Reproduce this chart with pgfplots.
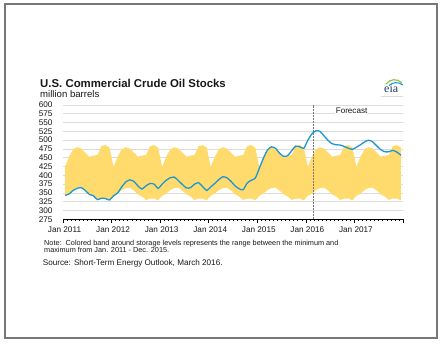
\documentclass[border=0pt]{standalone}
\usepackage{fontspec}
\setmainfont{Liberation Sans}
\newfontfamily\eiafont{Liberation Serif}
\usepackage{pgfplots}
\pgfplotsset{compat=1.18}
\definecolor{band}{RGB}{255,219,110}
\definecolor{lineblue}{RGB}{30,150,210}
\definecolor{gridcol}{RGB}{220,220,220}
\definecolor{framegray}{RGB}{120,120,120}
\definecolor{txt}{RGB}{25,25,25}
\definecolor{eianavy}{RGB}{30,60,100}
\definecolor{eiagreen}{RGB}{140,198,63}
\definecolor{eiablue}{RGB}{0,150,214}
\begin{document}
\begin{tikzpicture}
\useasboundingbox (0pt,0pt) rectangle (443pt,346pt);
\fill[white] (0pt,0pt) rectangle (443pt,346pt);
\draw[framegray, line width=1.5pt] (5pt,8pt) rectangle (437pt,342pt);
% title block
\node[anchor=base west, inner sep=0, text=txt, font=\fontsize{11.4}{13}\selectfont\bfseries] at (40pt,258.5pt) {U.S. Commercial Crude Oil Stocks};
\node[anchor=base west, inner sep=0, text=txt, font=\fontsize{9.6}{11}\selectfont] at (40pt,248.5pt) {million barrels};
% logo
\node[anchor=base west, inner sep=0, text=eianavy, font=\fontsize{12}{13}\selectfont\eiafont] at (384pt,254pt) {eia};
\draw[eiagreen, line width=1.2pt] (386pt,262pt) .. controls (390pt,267pt) and (397pt,268pt) .. (402pt,263pt);
\draw[eiablue, line width=1.0pt] (389pt,260.5pt) .. controls (393pt,264pt) and (398pt,264.5pt) .. (403pt,261pt);
\draw[gridcol, line width=0.6pt] (381pt,250pt) -- (403pt,250pt);
% notes
\node[anchor=base west, inner sep=0, text=txt, font=\fontsize{7.3}{8}\selectfont] at (44pt,100.5pt) {Note:\ \ Colored band around storage levels represents the range between the minimum and};
\node[anchor=base west, inner sep=0, text=txt, font=\fontsize{7.3}{8}\selectfont] at (44pt,93.5pt) {maximum from Jan. 2011 - Dec. 2015.};
\node[anchor=base west, inner sep=0, text=txt, font=\fontsize{8.15}{9}\selectfont] at (42.7pt,80.5pt) {Source: Short-Term Energy Outlook, March 2016.};
\begin{axis}[
  at={(63pt,126.7pt)}, anchor=south west,
  scale only axis, width=340pt, height=114.3pt,
  xmin=0, xmax=84, ymin=275, ymax=600,
  axis x line=bottom, axis y line=left,
  x axis line style={-, black, line width=0.7pt},
  y axis line style={draw=none},
  xtick={0,12,...,84},
  xticklabels={Jan 2011,Jan 2012,Jan 2013,Jan 2014,Jan 2015,Jan 2016,Jan 2017,{}},
  minor xtick={1,...,83},
  ytick={275,300,...,600},
  tick align=outside,
  major tick length=4pt, minor tick length=1.8pt,
  xtick style={black, line width=0.6pt},
  minor tick style={black, line width=0.5pt},
  ytick style={draw=none},
  ymajorgrids, grid style={gridcol, line width=0.8pt},
  /pgf/number format/assume math mode=true,
  ticklabel style={font=\fontsize{8.2}{9}\selectfont, text=txt},
  yticklabel style={xshift=-3pt},
  xticklabel style={xshift=1.5pt},
]
\addplot[fill=band, draw=none] coordinates {
(0.5,424)(1.5,453)(2.5,474)(3.5,480)(4.5,476)(5.5,465)(6.5,453)(7.5,456)(8.5,458)(9.5,483)(10.5,486)(11.5,479)
(12.5,424)(13.5,453)(14.5,474)(15.5,480)(16.5,476)(17.5,465)(18.5,453)(19.5,456)(20.5,458)(21.5,483)(22.5,486)(23.5,479)
(24.5,424)(25.5,453)(26.5,474)(27.5,480)(28.5,476)(29.5,465)(30.5,453)(31.5,456)(32.5,458)(33.5,483)(34.5,486)(35.5,479)
(36.5,424)(37.5,453)(38.5,474)(39.5,480)(40.5,476)(41.5,465)(42.5,453)(43.5,456)(44.5,458)(45.5,483)(46.5,486)(47.5,479)
(48.5,424)(49.5,453)(50.5,474)(51.5,480)(52.5,476)(53.5,465)(54.5,453)(55.5,456)(56.5,458)(57.5,483)(58.5,486)(59.5,479)
(60.5,424)(61.5,453)(62.5,474)(63.5,480)(64.5,476)(65.5,465)(66.5,453)(67.5,456)(68.5,458)(69.5,483)(70.5,486)(71.5,479)
(72.5,424)(73.5,453)(74.5,474)(75.5,480)(76.5,476)(77.5,465)(78.5,453)(79.5,456)(80.5,458)(81.5,483)(82.5,486)(83.5,479)
(83.5,329)(82.5,334)(81.5,334)(80.5,330)(79.5,340)(78.5,346)(77.5,357)(76.5,365)(75.5,364)(74.5,358)(73.5,348)(72.5,342)
(71.5,329)(70.5,334)(69.5,334)(68.5,330)(67.5,340)(66.5,346)(65.5,357)(64.5,365)(63.5,364)(62.5,358)(61.5,348)(60.5,342)
(59.5,329)(58.5,334)(57.5,334)(56.5,330)(55.5,340)(54.5,346)(53.5,357)(52.5,365)(51.5,364)(50.5,358)(49.5,348)(48.5,342)
(47.5,329)(46.5,334)(45.5,334)(44.5,330)(43.5,340)(42.5,346)(41.5,357)(40.5,365)(39.5,364)(38.5,358)(37.5,348)(36.5,342)
(35.5,329)(34.5,334)(33.5,334)(32.5,330)(31.5,340)(30.5,346)(29.5,357)(28.5,365)(27.5,364)(26.5,358)(25.5,348)(24.5,342)
(23.5,329)(22.5,334)(21.5,334)(20.5,330)(19.5,340)(18.5,346)(17.5,357)(16.5,365)(15.5,364)(14.5,358)(13.5,348)(12.5,342)
(11.5,329)(10.5,334)(9.5,334)(8.5,330)(7.5,340)(6.5,346)(5.5,357)(4.5,365)(3.5,364)(2.5,358)(1.5,348)(0.5,342)
} -- cycle;
\addplot[framegray, line width=1.2pt, dash pattern=on 2pt off 1pt] coordinates {(61.8,275) (61.8,600)};
\addplot[lineblue, line width=1.3pt, smooth, tension=0.4, no marks] coordinates {
(0.5,343)(1.5,347)(2.5,357)(3.5,363)(4.5,365)(5.5,357)(6.5,346)(7.5,342)(8.5,331)(9.5,335)(10.5,334)(11.5,330)
(12.5,342)(13.5,350)(14.5,367)(15.5,381)(16.5,387)(17.5,383)(18.5,370)(19.5,361)(20.5,370)(21.5,377)(22.5,375)(23.5,363)
(24.5,375)(25.5,386)(26.5,393)(27.5,395)(28.5,385)(29.5,374)(30.5,364)(31.5,365)(32.5,375)(33.5,379)(34.5,368)(35.5,357)
(36.5,367)(37.5,377)(38.5,388)(39.5,396)(40.5,393)(41.5,383)(42.5,370)(43.5,362)(44.5,359)(45.5,378)(46.5,386)(47.5,392)
(48.5,420)(49.5,448)(50.5,472)(51.5,481)(52.5,477)(53.5,463)(54.5,454)(55.5,456)(56.5,470)(57.5,483)(58.5,481)(59.5,477)
(60.5,500)(61.5,518)(62.5,527)(63.5,525)(64.5,512)(65.5,499)(66.5,490)(67.5,487)(68.5,486)(69.5,482)(70.5,477)(71.5,474)
(72.5,480)(73.5,487)(74.5,495)(75.5,500)(76.5,495)(77.5,484)(78.5,473)(79.5,467)(80.5,467)(81.5,471)(82.5,466)(83.5,457)
};
\end{axis}
% forecast label on top of grid
\node[anchor=base west, inner sep=0.6pt, fill=white, text=txt, font=\fontsize{8.1}{9}\selectfont] at (335pt,233pt) {Forecast};
\end{tikzpicture}
\end{document}
